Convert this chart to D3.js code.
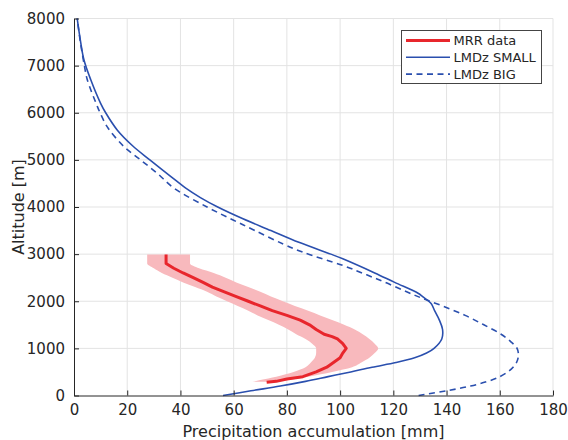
<!DOCTYPE html>
<html><head><meta charset="utf-8">
<script src="https://cdn.jsdelivr.net/npm/d3@7"></script>
<style>body{margin:0;background:#fff}svg{display:block;font-family:"DejaVu Sans",sans-serif}</style>
</head><body><svg id="c" width="568" height="440"></svg>
<script>
// LMDz SMALL: altitude (m) and accumulation (mm)
const smallAlt = [0,100,200,300,400,500,600,700,800,900,1000,1200,1400,1600,1800,1950,2100,2170,2400,2600,2900,3000,3250,3500,3750,4000,4200,4400,4650,5000,5300,5630,6000,6200,6700,7120,7500,8000];
const smallVal = [56,66.5,77.5,87,95.5,104,112,121,128,132.5,135.3,138.2,138.5,137.3,135.5,134.2,131,129.3,120.5,113,101,96.5,84.5,74,63.5,54,47.5,42,36.3,28.5,22,16.3,11.9,10,6.3,3.75,2.5,1.2];
// LMDz BIG
const bigAlt = [0,100,200,300,400,500,600,700,850,1000,1150,1300,1500,1700,1900,2060,2200,2400,2560,2750,3040,3215,3500,3724,4000,4400,4715,5000,5280,5700,6000,6130,6700,7000,7500,8000];
const bigVal = [129.5,140,149,155.5,160,163,165,166.3,167,166.5,164,160.5,154,147,138.5,131,125,117,110,101.5,86,78.6,68,59.8,50,37.6,31.3,25,18.8,12.5,9.8,8.8,5,3.9,2.4,1.2];
// MRR data (mean) and spread
const mrrAlt = [280,300,350,400,500,600,700,800,900,1000,1100,1200,1250,1300,1400,1500,1600,1700,1800,1900,2000,2100,2200,2300,2400,2500,2600,2700,2800,2990];
const mrrVal = [72.4,76,80,86,91,95,97.5,100,101,102.3,101,99,97,94,91,88.5,85,80,74.5,70,65.5,61,56.5,52,48.5,44.8,41,37.5,34.6,34.6];
const bandAlt = [290,330,400,500,600,700,800,900,1000,1100,1200,1300,1400,1500,1600,1700,1800,1900,2000,2100,2200,2300,2400,2500,2600,2700,2800,2990];
const bandLo = [67,70,76,82.5,87,89,90.5,91,91,89.5,87,83.5,80.5,77,73,69,65.5,61.5,57.5,53.5,50,45.5,41,37,33,30,27.5,27.5];
const bandHi = [72.5,80,88,97,104.5,108,111,113,114.3,113,111,108.5,105.5,101.5,97,92.5,88,83,78.5,74,70,65.5,61,57,52.5,47,43.6,43.6];
const xTicks = [0,20,40,60,80,100,120,140,160,180];
const yTicks = [0,1000,2000,3000,4000,5000,6000,7000,8000];
const seriesNames = ["MRR data","LMDz SMALL","LMDz BIG"];

const svg = d3.select("#c");
const L=74,R=553,T=18.5,B=395.5;
const x = d3.scaleLinear().domain([0,180]).range([L,R]);
const y = d3.scaleLinear().domain([0,8000]).range([B,T]);
const blue="#2a4fae", red="#e8262c", pink="#f8b9bd", axc="#262626";

// grid
const g = svg.append("g");
g.selectAll(".vx").data(xTicks.slice(1)).join("line").attr("x1",d=>x(d)).attr("x2",d=>x(d)).attr("y1",T).attr("y2",B).attr("stroke","#e3e3e3").attr("stroke-width",1);
g.selectAll(".hy").data(yTicks.slice(1)).join("line").attr("x1",L).attr("x2",R).attr("y1",d=>y(d)).attr("y2",d=>y(d)).attr("stroke","#e3e3e3").attr("stroke-width",1);

// band
const band = bandAlt.map((a,i)=>({a,lo:bandLo[i],hi:bandHi[i]}));
svg.append("path").datum(band).attr("fill",pink).attr("stroke","none")
  .attr("d",d3.area().y(d=>y(d.a)).x0(d=>x(d.lo)).x1(d=>x(d.hi)).curve(d3.curveMonotoneY));

const lineGen = d3.line().x(d=>x(d[0])).y(d=>y(d[1])).curve(d3.curveCatmullRom.alpha(0.5));
svg.append("path").datum(smallVal.map((v,i)=>[v,smallAlt[i]])).attr("fill","none").attr("stroke",blue).attr("stroke-width",1.6).attr("d",lineGen);
svg.append("path").datum(bigVal.map((v,i)=>[v,bigAlt[i]])).attr("fill","none").attr("stroke",blue).attr("stroke-width",1.6).attr("stroke-dasharray","6,4.5").attr("d",lineGen);
svg.append("path").datum(mrrVal.map((v,i)=>[v,mrrAlt[i]])).attr("fill","none").attr("stroke",red).attr("stroke-width",3).attr("stroke-linejoin","round").attr("d",d3.line().x(d=>x(d[0])).y(d=>y(d[1])));

// axes
const xa = svg.append("g").attr("transform",`translate(0,${B})`).call(d3.axisBottom(x).tickValues(xTicks).tickSizeInner(-5).tickSizeOuter(0).tickPadding(9));
const ya = svg.append("g").attr("transform",`translate(${L},0)`).call(d3.axisLeft(y).tickValues(yTicks).tickFormat(d3.format("d")).tickSizeInner(-5).tickSizeOuter(0).tickPadding(9));
[xa,ya].forEach(a=>{a.select(".domain").attr("stroke",axc).attr("stroke-width",1);a.selectAll(".tick line").attr("stroke",axc);a.selectAll("text").attr("fill",axc).attr("font-size",15).attr("font-family","DejaVu Sans");});

svg.append("text").attr("x",(L+R)/2).attr("y",437).attr("text-anchor","middle").attr("font-size",16).attr("fill",axc).text("Precipitation accumulation [mm]");
svg.append("text").attr("transform","translate(24,207) rotate(-90)").attr("text-anchor","middle").attr("font-size",16).attr("fill",axc).text("Altitude [m]");

// legend
const lg = svg.append("g");
lg.append("rect").attr("x",401.5).attr("y",30.5).attr("width",140).attr("height",53).attr("fill","#fff").attr("stroke","#444").attr("stroke-width",1);
const styles=[{c:red,w:3,d:null},{c:blue,w:1.6,d:null},{c:blue,w:1.6,d:"6,4.5"}];
seriesNames.forEach((n,i)=>{
  const yy=40.5+i*16.8;
  lg.append("line").attr("x1",406).attr("x2",450).attr("y1",yy).attr("y2",yy).attr("stroke",styles[i].c).attr("stroke-width",styles[i].w).attr("stroke-dasharray",styles[i].d);
  lg.append("text").attr("x",453.5).attr("y",yy).attr("dy","0.35em").attr("font-size",13).attr("fill",axc).text(n);
});
</script></body></html>
